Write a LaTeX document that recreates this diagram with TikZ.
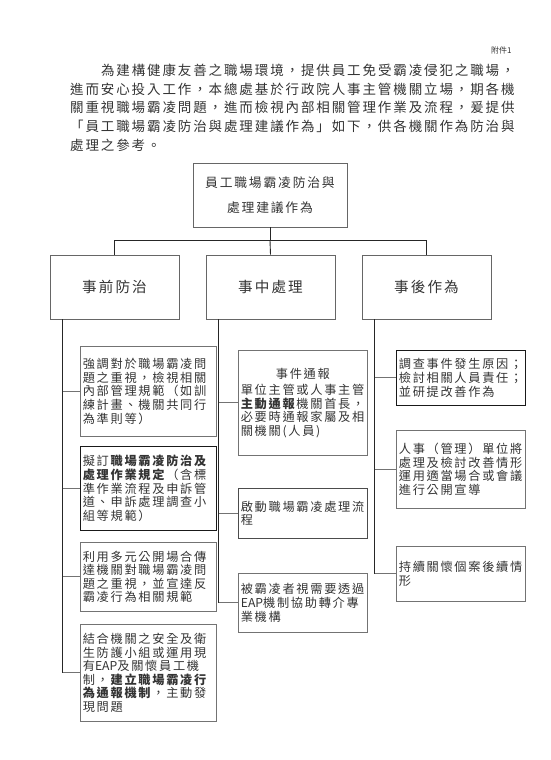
\documentclass[tikz,border=0pt]{standalone}
\usepackage{fontspec}
\newfontfamily\cjk[LetterSpace=14]{Noto Sans CJK TC}
\newfontfamily\cjkplain{Noto Sans CJK TC}
\usepackage{tikz}
\usetikzlibrary{positioning, calc}
\hfuzz=30pt
\hbadness=10000

\begin{document}
\begin{tikzpicture}[
  x=1pt, y=-1pt,
  font=\cjk\fontsize{12.2}{13.6}\selectfont, text=black!80,
  rootbox/.style={
    draw=black!60, line width=0.7pt, align=center,
    minimum width=154pt, minimum height=64pt,
    font=\cjk\fontsize{12.8}{25}\selectfont
  },
  headbox/.style={
    draw=black!60, line width=0.7pt,
    minimum width=129pt, minimum height=64pt,
    font=\cjk\fontsize{14.6}{18}\selectfont
  },
  itembox/.style={
    draw=black!55, line width=0.7pt, anchor=north west, align=left,
    inner xsep=2.5pt, inner ysep=2pt, text width=124pt
  },
  widebox/.style={itembox, text width=131pt},
  spine/.style={draw=black!85, line width=0.9pt},
  branch/.style={draw=black!55, line width=0.8pt}
]
  \useasboundingbox (0,0) rectangle (550,760);

  % heading text
  \node[anchor=east, font=\cjkplain\fontsize{8}{9}\selectfont] (tag) at (515,50) {附件1};
  \node[anchor=north west, inner sep=0pt, align=left,
        font=\cjk\fontsize{13.5}{18.6}\selectfont] (intro) at (70,64)
    {\hspace*{30.8pt}為建構健康友善之職場環境，提供員工免受霸凌侵犯之職場，\\
     進而安心投入工作，本總處基於行政院人事主管機關立場，期各機\\
     關重視職場霸凌問題，進而檢視內部相關管理作業及流程，爰提供\\
     「員工職場霸凌防治與處理建議作為」如下，供各機關作為防治與\\
     處理之參考。};

  % tree
  \node[rootbox] (root) at (270,195) {員工職場霸凌防治與\\處理建議作為};
  \node[headbox] (pre) at (114.5,287) {事前防治};
  \node[headbox] (mid) at (270.5,287) {事中處理};
  \node[headbox] (post) at (426.5,287) {事後作為};

  \draw[spine] (root.south) -- ++(0,13) coordinate (bus);
  \draw[spine] (pre.north) |- (bus) -| (post.north);
  \draw[spine] (bus) -- (mid.north);

  % before
  \node[widebox, minimum height=90pt] (a1) at (80,346)
    {強調對於職場霸凌問\\題之重視，檢視相關\\內部管理規範（如訓\\練計畫、機關共同行\\為準則等）};
  \node[widebox, minimum height=84pt, draw=black!90] (a2) at (80,446)
    {擬訂\textbf{職場霸凌防治及}\\\textbf{處理作業規定}（含標\\準作業流程及申訴管\\道、申訴處理調查小\\組等規範）};
  \node[widebox, minimum height=69pt] (a3) at (80,542)
    {利用多元公開場合傳\\達機關對職場霸凌問\\題之重視，並宣達反\\霸凌行為相關規範};
  \node[widebox, minimum height=97pt] (a4) at (80,624)
    {結合機關之安全及衛\\生防護小組或運用現\\有{\cjkplain EAP}及關懷員工機\\制，\textbf{建立職場霸凌行}\\\textbf{為通報機制}，主動發\\現問題};

  % during
  \node[itembox, minimum height=105pt] (b1) at (238,350)
    {\hspace*{35pt}事件通報\\[3pt]單位主管或人事主管\\\textbf{主動通報}機關首長，\\必要時通報家屬及相\\關機關(人員)};
  \node[itembox, minimum height=50pt, draw=black!70] (b2) at (238,488)
    {啟動職場霸凌處理流\\程};
  \node[itembox, minimum height=59pt] (b3) at (238,573)
    {被霸凌者視需要透過\\{\cjkplain EAP}機制協助轉介專\\業機構};

  % after
  \node[itembox, minimum height=55pt, draw=black!90] (c1) at (396,350)
    {調查事件發生原因；\\檢討相關人員責任；\\並研提改善作為};
  \node[itembox, minimum height=78pt] (c2) at (396,430)
    {人事（管理）單位將\\處理及檢討改善情形\\運用適當場合或會議\\進行公開宣導};
  \node[itembox, minimum height=55pt] (c3) at (396,546)
    {持續關懷個案後續情\\形};

  % column lines
  \coordinate (preroot) at ([xshift=13pt]pre.south west);
  \coordinate (midroot) at ([xshift=13pt]mid.south west);
  \coordinate (postroot) at ([xshift=13pt]post.south west);
  \draw[spine] (preroot) -- (preroot |- a4.west);
  \draw[spine] (midroot) -- (midroot |- b3.west);
  \draw[spine] (postroot) -- (postroot |- c3.west);
  \foreach \b in {a1,a2,a3,a4}
    \draw[branch] (preroot |- \b.west) -- (\b.west);
  \foreach \b in {b1,b2,b3}
    \draw[branch] (midroot |- \b.west) -- (\b.west);
  \foreach \b in {c1,c2,c3}
    \draw[branch] (postroot |- \b.west) -- (\b.west);
\end{tikzpicture}
\end{document}
